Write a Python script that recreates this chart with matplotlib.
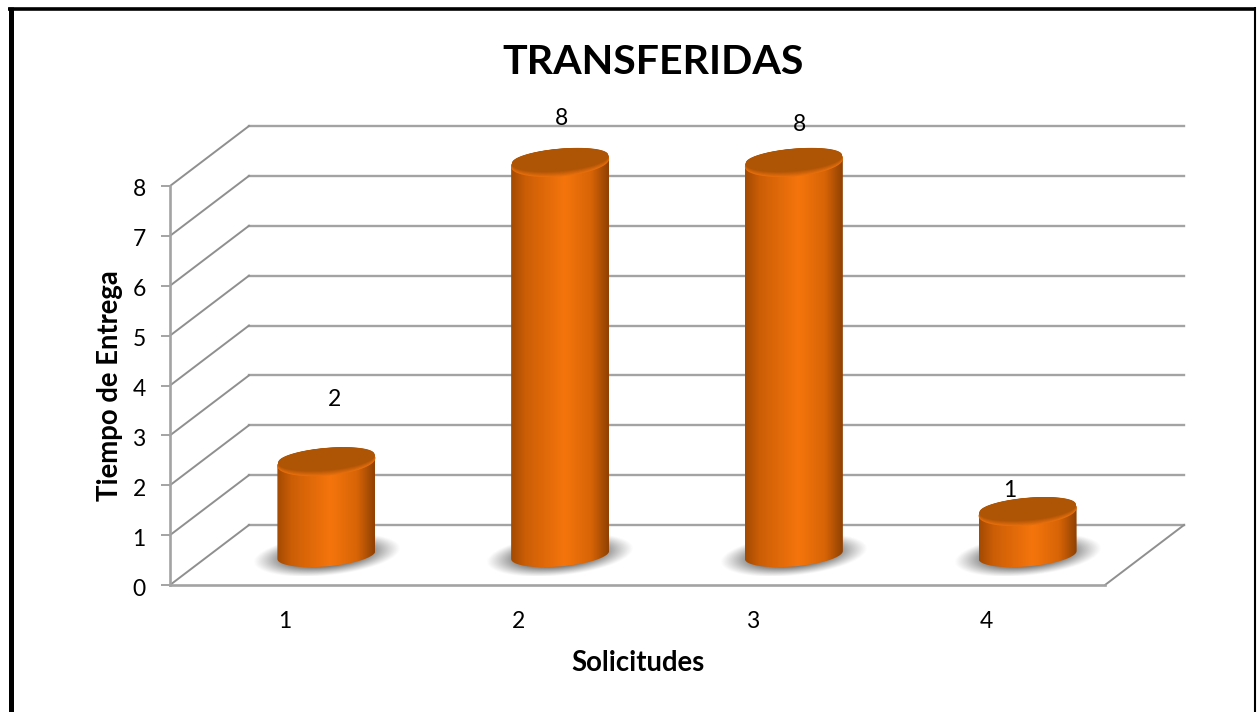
import numpy as np
import matplotlib
matplotlib.use('Agg')
import matplotlib.pyplot as plt
from matplotlib.colors import LinearSegmentedColormap, to_rgb
from matplotlib.lines import Line2D
from matplotlib.path import Path
from matplotlib.transforms import Affine2D

# Data
categories = [1, 2, 3, 4]
values = [2, 8, 8, 1]
y_ticks = [0, 1, 2, 3, 4, 5, 6, 7, 8]
title = 'TRANSFERIDAS'
x_label = 'Solicitudes'
y_label = 'Tiempo de Entrega'
label_offsets = [(8, 56), (1, 38), (6, 32), (-18, 15)]  # px from bar top, hand moved in the original

# 3D look, all in data units
DX, DY = 0.338, 1.203   # depth of the floor
HALF_W = 0.2096         # cylinder half width
CAP_B = 0.27            # cap ellipse half height
SHEAR = 0.08            # tilt of the ellipses
TOP_DROP = 0.14
GRID = '#A3A3A3'
TEXT = '#000000'

plt.rcParams['font.family'] = ['Lato', 'DejaVu Sans']

W, H = 1257, 712
fig = plt.figure(figsize=(W / 100, H / 100), dpi=100)
ax = fig.add_axes([170 / W, (H - 585) / H, 935 / W, 399 / H])
ax.set_facecolor('none')

bar_cmap = LinearSegmentedColormap.from_list('bar', [
    (0.0, '#A34A02'), (0.15, '#CC5E06'), (0.55, '#F5750C'), (0.82, '#D76406'), (1.0, '#8F4103')])


def ellipse(cx, cy, a, b, t0=0, t1=2 * np.pi, n=80):
    t = np.linspace(t0, t1, n)
    return np.column_stack([cx + a * np.cos(t), cy + b * np.sin(t) + SHEAR * np.cos(t)])


def soft_shadow(cx, cy):
    a, b = 0.315, 0.42
    u, v = np.meshgrid(np.linspace(-1, 1, 120), np.linspace(-1, 1, 60))
    v = v - 0.33 * u
    r = np.sqrt(u ** 2 + v ** 2)
    img = np.zeros(r.shape + (4,))
    img[..., :3] = 0.38
    img[..., 3] = 0.95 * np.clip((1 - r) / 0.5, 0, 1) ** 1.1
    im = ax.imshow(img, extent=[cx - a, cx + a, cy - b, cy + b], origin='lower',
                   aspect='auto', interpolation='bilinear', zorder=2)
    im.set_clip_box(fig.bbox)


def cylinder(cx, v):
    base = DY / 2
    top = base + v - TOP_DROP
    front = ellipse(cx, base, HALF_W, CAP_B * 0.85, np.pi, 2 * np.pi)
    back = ellipse(cx, top, HALF_W, CAP_B, 0, np.pi)
    body = np.vstack([front, back, front[:1]])
    grad = np.linspace(0, 1, 256).reshape(1, -1)
    im = ax.imshow(grad, cmap=bar_cmap, extent=[cx - HALF_W, cx + HALF_W, base - 0.4, top + 0.4],
                   aspect='auto', interpolation='bilinear', zorder=3)
    im.set_clip_box(fig.bbox)
    im.set_clip_path(Path(body), ax.transData)

    # cap with a lit rim on the front edge
    rim, face = np.array(to_rgb('#E56E0C')), np.array(to_rgb('#AE5405'))
    steps = 8
    for k in range(steps):
        f = k / (steps - 1)
        xy = ellipse(cx, top + 0.012 * k, HALF_W * (1 - 0.003 * k), CAP_B * (1 - 0.035 * k))
        ax.fill(xy[:, 0], xy[:, 1], color=tuple(rim + (face - rim) * min(f * 1.5, 1)),
                lw=0, zorder=4 + k * 0.01, clip_on=False)


# walls and floor
x0, x1 = categories[0] - 0.5, categories[-1] + 0.5
for y in y_ticks:
    ax.plot([x0 + DX, x1 + DX], [y + DY, y + DY], color=GRID, lw=1.7, zorder=1, clip_on=False)
    ax.plot([x0, x0 + DX], [y, y + DY], color='#8F8F8F', lw=1.4, zorder=1, clip_on=False)
ax.plot([x1, x1 + DX], [0, DY], color='#8F8F8F', lw=1.4, zorder=1, clip_on=False)

for c, v, off in zip(categories, values, label_offsets):
    cx = c + DX / 2
    soft_shadow(cx, DY / 2)
    cylinder(cx, v)
    ax.annotate(str(v), (cx, DY / 2 + v), xytext=off, textcoords='offset pixels',
                ha='center', va='center', fontsize=16.5, color=TEXT, zorder=6, annotation_clip=False)

ax.set_xlim(x0, x1)
ax.set_ylim(0, 8)
ax.set_xticks(categories)
ax.set_yticks(y_ticks)
ax.tick_params(axis='x', length=0, pad=18.5, labelsize=16.5, labelcolor=TEXT)
ax.tick_params(axis='y', length=6.5, width=1.4, color=GRID, pad=11, labelsize=16.5, labelcolor=TEXT)
for label in ax.get_xticklabels():
    label.set_transform(label.get_transform() + Affine2D().translate(-2, 0))
for label in ax.get_yticklabels():
    label.set_transform(label.get_transform() + Affine2D().translate(0, -2))
for side in ['top', 'right']:
    ax.spines[side].set_visible(False)
for side in ['left', 'bottom']:
    ax.spines[side].set_color(GRID)
    ax.spines[side].set_linewidth(1.9)
    ax.spines[side].set_zorder(1)

ax.set_xlabel(x_label, fontsize=19.8, fontweight='bold', labelpad=13, color=TEXT)
ax.set_ylabel(y_label, fontsize=19.8, fontweight='bold', labelpad=7, color=TEXT)
fig.text(653 / W, 1 - 62 / H, title, fontsize=29.6, fontweight='bold', ha='center', va='center', color=TEXT)

# black frame round the chart
fig.add_artist(Line2D([10.5 / W, 10.5 / W], [0, 1 - 7 / H], color='black', lw=3.6, solid_capstyle='butt'))
fig.add_artist(Line2D([8 / W, 1255.5 / W], [1 - 8.5 / H, 1 - 8.5 / H], color='black', lw=2.6, solid_capstyle='butt'))
fig.add_artist(Line2D([1255 / W, 1255 / W], [0, 1 - 7 / H], color='black', lw=1.5, solid_capstyle='butt'))

fig.savefig('out.png', dpi=100)
